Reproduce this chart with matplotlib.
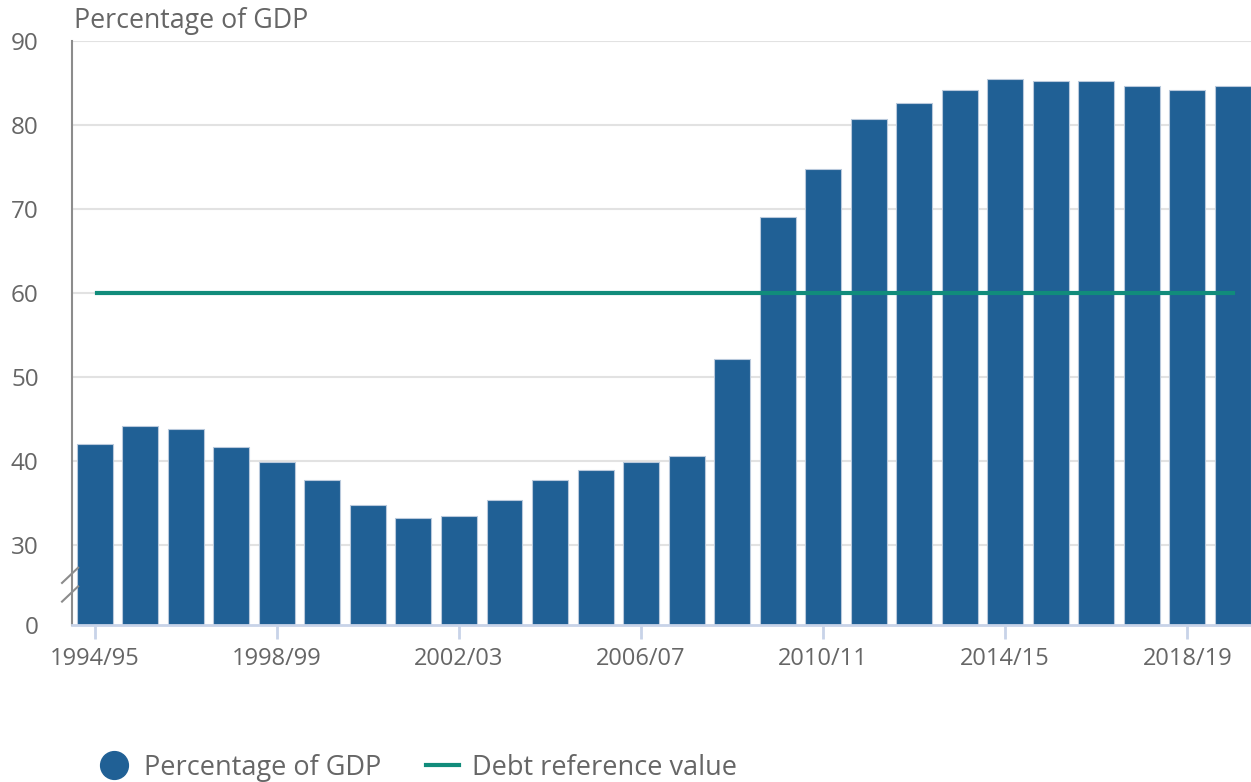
import numpy as np
import matplotlib
matplotlib.use("Agg")
import matplotlib.pyplot as plt
from matplotlib.lines import Line2D

plt.rcParams['font.family'] = ['Open Sans', 'DejaVu Sans']

years = ["1994/95", "1995/96", "1996/97", "1997/98", "1998/99", "1999/00",
         "2000/01", "2001/02", "2002/03", "2003/04", "2004/05", "2005/06",
         "2006/07", "2007/08", "2008/09", "2009/10", "2010/11", "2011/12",
         "2012/13", "2013/14", "2014/15", "2015/16", "2016/17", "2017/18",
         "2018/19", "2019/20"]
pct_gdp = [42.0, 44.2, 43.8, 41.7, 39.9, 37.7, 34.8, 33.2, 33.5, 35.4,
           37.7, 39.0, 39.9, 40.6, 52.1, 69.0, 74.8, 80.7, 82.6, 84.2,
           85.5, 85.2, 85.2, 84.6, 84.2, 84.6]
ref_value = 60
y_ticks = [0, 30, 40, 50, 60, 70, 80, 90]
x_tick_labels = ["1994/95", "1998/99", "2002/03", "2006/07", "2010/11", "2014/15", "2018/19"]

BLUE = "#206095"
TEAL = "#118C7B"
TXT = "#666666"

BREAK_LO, BREAK_HI = 9.5, 30.0

def fwd(v):
    v = np.asarray(v, dtype=float)
    return np.where(v < BREAK_HI, v * BREAK_LO / BREAK_HI, v - (BREAK_HI - BREAK_LO))

def inv(y):
    y = np.asarray(y, dtype=float)
    return np.where(y < BREAK_LO, y * BREAK_HI / BREAK_LO, y + (BREAK_HI - BREAK_LO))

fig = plt.figure(figsize=(12.51, 7.82), dpi=100)
ax = fig.add_axes([0.0576, 0.2008, 0.9424, 0.7468])
ax.set_yscale('function', functions=(fwd, inv))

x = np.arange(len(years))
ax.bar(x, pct_gdp, width=0.79, color=BLUE, edgecolor="#b9c9dc", linewidth=0.8, zorder=2)
ax.plot([x[0] + 0.05, x[-1]], [ref_value, ref_value], color=TEAL, linewidth=3, zorder=3)

ax.set_ylim(0, 90)
ax.set_xlim(-0.5, len(years) - 1 + 0.4)
ax.set_yticks(y_ticks)
ax.set_yticklabels([str(t) for t in y_ticks])
for t in y_ticks[1:]:
    ax.axhline(t, color="#e2e2e2", linewidth=1.5, zorder=1)

tick_pos = [years.index(l) for l in x_tick_labels]
ax.set_xticks(tick_pos)
ax.set_xticklabels(x_tick_labels)

for s in ["top", "right"]:
    ax.spines[s].set_visible(False)
ax.spines["left"].set_color("#8c8c8c")
ax.spines["left"].set_linewidth(1.5)
ax.spines["bottom"].set_color("#c8d3e8")
ax.spines["bottom"].set_linewidth(2)

ax.tick_params(axis='y', length=0, pad=24, labelsize=17.5, labelcolor=TXT)
ax.tick_params(axis='x', length=10, width=2, color="#c8d3e8", pad=6,
               labelsize=17, labelcolor=TXT)

# break marks on the y axis
tr = ax.transAxes
for (y0, y1) in [(0.072, 0.098), (0.040, 0.066)]:
    ax.plot([-0.0085, 0.0051], [y0, y1], transform=tr, color="#8c8c8c",
            linewidth=1.5, clip_on=False, zorder=5)

fig.text(0.0595, 0.973, "Percentage of GDP", fontsize=19.3, color=TXT,
         ha="left", va="center")

handles = [Line2D([], [], marker='o', linestyle='none', markersize=20,
                  markerfacecolor=BLUE, markeredgecolor=BLUE),
           Line2D([], [], color=TEAL, linewidth=3)]
fig.legend(handles, ["Percentage of GDP", "Debt reference value"],
           loc="center left", bbox_to_anchor=(0.0694, 0.018), ncol=2,
           frameon=False, fontsize=19.5, labelcolor=TXT, handlelength=1.2,
           handletextpad=0.5, columnspacing=1.68, borderaxespad=0)

fig.savefig("out.png", dpi=100)
